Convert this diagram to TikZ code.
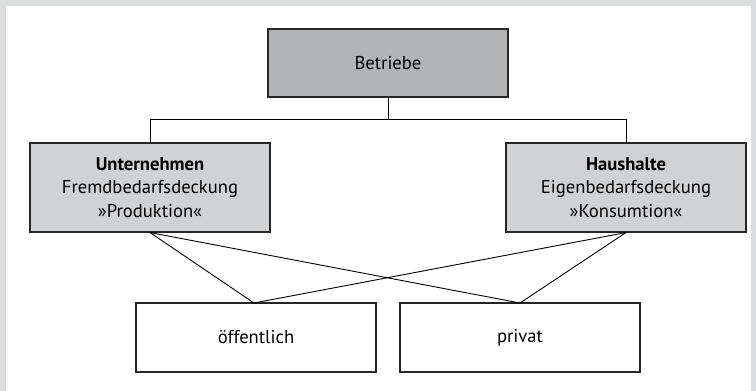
\documentclass[tikz,border=0pt]{standalone}
\usepackage{fontspec}
\setmainfont{PT Sans}
\definecolor{frame}{HTML}{DCDDDF}
\definecolor{dark}{HTML}{B3B4B6}
\definecolor{light}{HTML}{D1D2D4}
\begin{document}
\begin{tikzpicture}[x=1pt,y=-1pt,
  box/.style={draw=black!85, line width=1.1pt, inner sep=0pt, align=center, font=\fontsize{18.6}{23.5}\selectfont},
  conn/.style={draw=black, line width=0.9pt}]
\useasboundingbox (0,0) rectangle (756,391);
\fill[frame] (0,0) rectangle (756,391);
\fill[white] (6,6) rectangle (751,391);
\node[box, fill=dark, minimum width=240pt, minimum height=68pt] (bet) at (388,63) {Betriebe};
\node[box, fill=light, minimum width=240pt, minimum height=89pt] (unt) at (150,187.5) {\textbf{Unternehmen}\\Fremdbedarfsdeckung\\»Produktion«};
\node[box, fill=light, minimum width=240pt, minimum height=89pt] (hau) at (626,187.5) {\textbf{Haushalte}\\Eigenbedarfsdeckung\\»Konsumtion«};
\node[box, fill=white, minimum width=240pt, minimum height=69pt] (oef) at (256,337.5) {öffentlich};
\node[box, fill=white, minimum width=240pt, minimum height=69pt] (pri) at (520,337.5) {privat};
\coordinate (mid) at (388,119.5);
\draw[conn] (bet.south) -- (mid);
\draw[conn] (unt.north) |- (mid) -| (hau.north);
\coordinate (ot) at (254,303);
\coordinate (pt) at (520,303);
\draw[conn] (unt.south) -- (ot);
\draw[conn] (unt.south) -- (pt);
\draw[conn] (hau.south) -- (ot);
\draw[conn] (hau.south) -- (pt);
\end{tikzpicture}
\end{document}
